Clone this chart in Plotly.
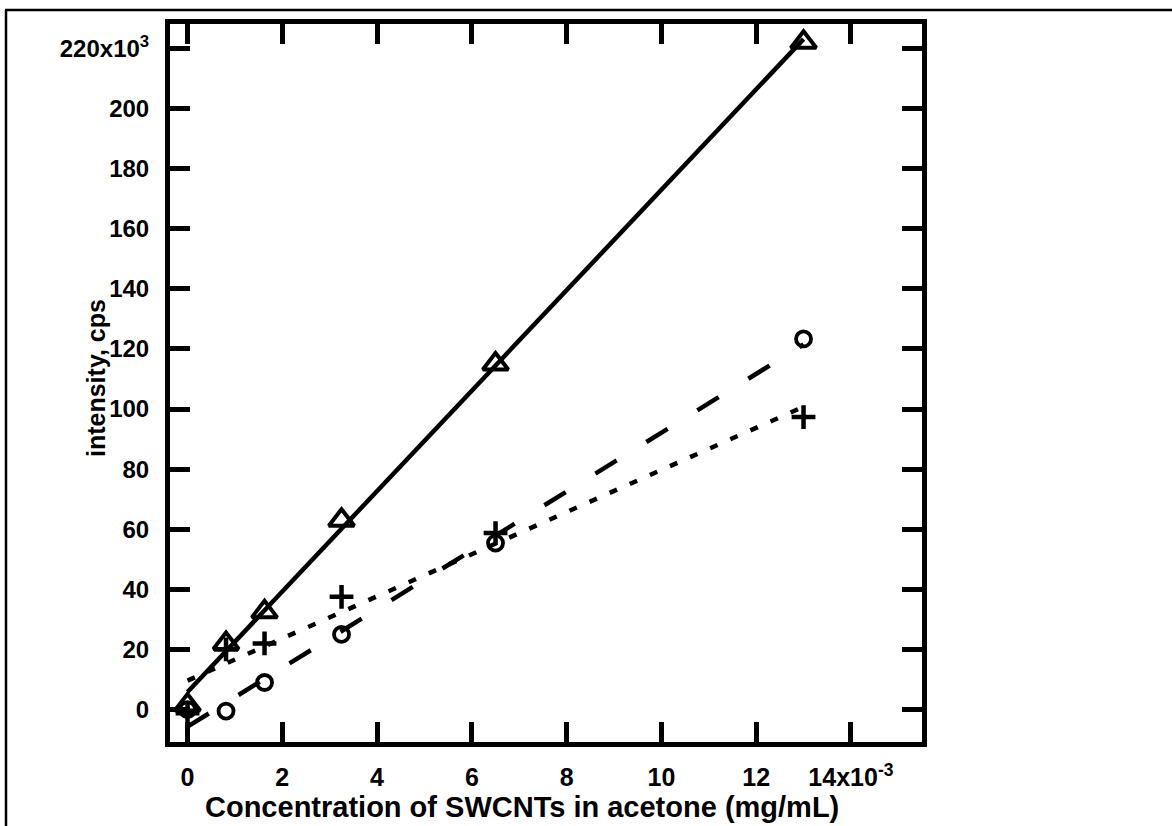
import numpy as np
import plotly.graph_objects as go

# concentration of SWCNTs in acetone (x 10^-3 mg/mL)
conc = [0, 0.8125, 1.625, 3.25, 6.5, 13]
# intensity (x 10^3 cps)
triangle_series = [1.5, 22, 32.5, 63, 115, 222]
circle_series = [0, -0.5, 9, 25, 55.4, 123.3]
plus_series = [-1.2, 20, 22, 37.5, 58.7, 97.3]

x_tickvals = [0, 2, 4, 6, 8, 10, 12, 14]
x_ticktext = ["0", "2", "4", "6", "8", "10", "12", "14x10<sup>-3</sup>"]
y_tickvals = [0, 20, 40, 60, 80, 100, 120, 140, 160, 180, 200, 220]
y_ticktext = ["0", "20", "40", "60", "80", "100", "120", "140", "160", "180", "200",
              "220x10<sup>3</sup>"]
x_title = "Concentration of SWCNTs in acetone (mg/mL)"
y_title = "intensity, cps"

FONT = "Liberation Sans, Arial, sans-serif"

fig = go.Figure()

fit_x = np.array([conc[0], conc[-1]])
series = [
    (triangle_series, "triangle-up-open", 22, "solid", 4),
    (circle_series, "circle-open", 15, "25px,35px", 3.8),
    (plus_series, "cross-thin-open", 17, "8px,14px", 4.5),
]
for ys, sym, size, dash, mlw in series:
    slope, icpt = np.polyfit(conc, ys, 1)
    fig.add_trace(go.Scatter(x=fit_x, y=slope * fit_x + icpt, mode="lines",
                             line=dict(color="black", width=4.5, dash=dash),
                             showlegend=False, hoverinfo="skip"))
for ys, sym, size, dash, mlw in series:
    fig.add_trace(go.Scatter(x=conc, y=ys, mode="markers",
                             marker=dict(symbol=sym, size=size, color="black",
                                         line=dict(width=mlw, color="black")),
                             showlegend=False))

L, R, T, B = 170, 250, 24, 84
W, H = 1172, 826
pw, ph = W - L - R, H - T - B

def px_x(p):
    return (p - L) / pw

def px_y(p):
    return (H - B - p) / ph

fig.update_layout(
    width=W, height=H,
    margin=dict(l=L, r=R, t=T, b=B),
    paper_bgcolor="white", plot_bgcolor="white",
    font=dict(family=FONT, color="black"),
    shapes=[
        dict(type="line", xref="paper", yref="paper", x0=px_x(5), x1=px_x(1172),
             y0=px_y(10), y1=px_y(10), line=dict(color="black", width=2.5)),
        dict(type="line", xref="paper", yref="paper", x0=px_x(6), x1=px_x(6),
             y0=px_y(10), y1=px_y(826), line=dict(color="black", width=2.5)),
    ],
    annotations=[
        dict(text="<b>%s</b>" % x_title, xref="paper", yref="paper",
             x=px_x(522), y=px_y(807), xanchor="center", yanchor="middle",
             showarrow=False, font=dict(family=FONT, size=29, color="black")),
        dict(text="<b>%s</b>" % y_title, xref="paper", yref="paper",
             x=px_x(96), y=px_y(378), xanchor="center", yanchor="middle",
             textangle=-90, showarrow=False,
             font=dict(family=FONT, size=25, color="black")),
    ],
)
fig.update_xaxes(
    range=[-0.37, 15.5], tickvals=x_tickvals,
    ticktext=["<b>%s</b>" % t for t in x_ticktext],
    ticks="inside", ticklen=20, tickwidth=5, tickcolor="black",
    showline=True, linewidth=5, linecolor="black", mirror="ticks",
    showgrid=False, zeroline=False, ticklabelstandoff=9,
    tickfont=dict(family=FONT, size=25, color="black"),
)
fig.update_yaxes(
    range=[-10.8, 228.1], tickvals=y_tickvals,
    ticktext=["<b>%s</b>" % t for t in y_ticktext],
    ticks="inside", ticklen=20, tickwidth=5, tickcolor="black",
    showline=True, linewidth=5, linecolor="black", mirror="ticks",
    showgrid=False, zeroline=False, ticklabelstandoff=11,
    tickfont=dict(family=FONT, size=24, color="black"),
)

fig.write_html("out.html")
